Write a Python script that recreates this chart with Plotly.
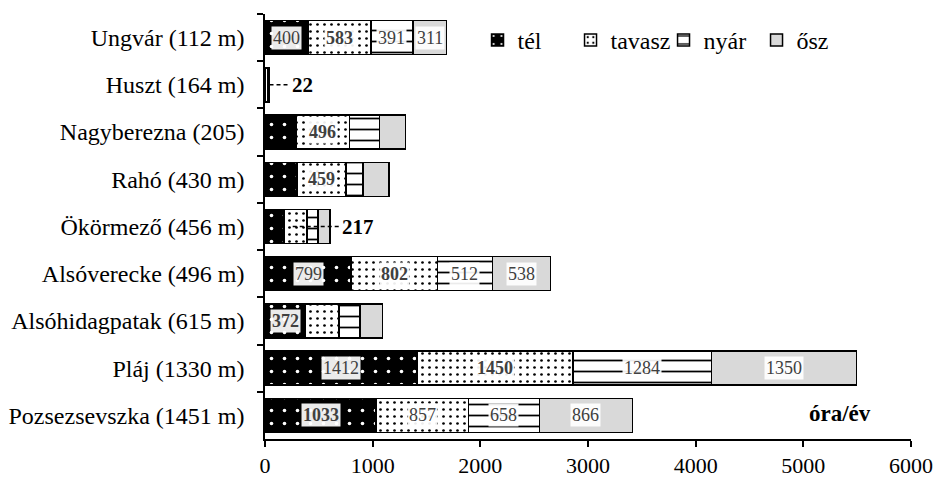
import plotly.graph_objects as go

categories = ["Ungvár (112 m)", "Huszt (164 m)", "Nagyberezna (205)", "Rahó (430 m)",
              "Ökörmező (456 m)", "Alsóverecke (496 m)", "Alsóhidagpatak (615 m)",
              "Pláj (1330 m)", "Pozsezsevszka (1451 m)"]
tel = [400, 6, 290, 295, 175, 799, 372, 1412, 1033]
tavasz = [583, 22, 496, 459, 217, 802, 315, 1450, 857]
nyar = [391, 5, 279, 155, 100, 512, 193, 1284, 658]
osz = [311, 4, 240, 242, 112, 538, 211, 1350, 866]

series_names = ["tél", "tavasz", "nyár", "ősz"]
x_ticks = [0, 1000, 2000, 3000, 4000, 5000, 6000]

# which segment values are printed inside the bars (None = not shown), and bold flags
tel_lbl = [400, None, None, None, None, 799, 372, 1412, 1033]
tel_bold = [False, False, False, False, False, False, True, False, True]
tavasz_lbl = [583, None, 496, 459, None, 802, None, 1450, 857]
tavasz_bold = [True, False, True, True, False, True, False, True, False]
nyar_lbl = [391, None, None, None, None, 512, None, 1284, 658]
osz_lbl = [311, None, None, None, None, 538, None, 1350, 866]
# values shown outside with a dashed leader line (tavasz segment)
callout_idx = [1, 4]

FONT = "Liberation Serif"
series = [tel, tavasz, nyar, osz]
patterns = [
    dict(shape=".", bgcolor="black", fgcolor="white", size=13, solidity=0.06, fillmode="replace"),
    dict(shape=".", bgcolor="white", fgcolor="black", size=7, solidity=0.12, fillmode="replace"),
    dict(shape="-", bgcolor="white", fgcolor="black", size=11, solidity=0.16, fillmode="replace"),
    None,
]
colors = ["black", "white", "white", "#d9d9d9"]

fig = go.Figure()
for name, vals, pat, col in zip(series_names, series, patterns, colors):
    marker = dict(color=col, line=dict(color="black", width=1.5))
    if pat is not None:
        marker["pattern"] = pat
    fig.add_trace(go.Bar(y=categories, x=vals, name=name, orientation="h",
                         marker=marker, width=0.72))

# in-bar labels
label_sets = [(tel_lbl, tel_bold), (tavasz_lbl, tavasz_bold),
              (nyar_lbl, [False] * 9), (osz_lbl, [False] * 9)]
for i, cat in enumerate(categories):
    start = 0
    for s, (lbls, bolds) in enumerate(label_sets):
        v = series[s][i]
        if lbls[i] is not None:
            txt = str(lbls[i])
            if bolds[i]:
                txt = "<b>" + txt + "</b>"
            fig.add_annotation(x=start + v / 2, y=cat, text=txt, showarrow=False,
                               font=dict(family=FONT, size=18, color="#404040"),
                               bgcolor="rgba(255,255,255,0.92)", borderpad=1)
        start += v

# callouts with dashed leaders
for i in callout_idx:
    cat = categories[i]
    total = tel[i] + tavasz[i] + nyar[i] + osz[i]
    if i == 1:
        x0 = total + 5
        x1 = x0 + 190
    else:
        x0 = tel[i] + tavasz[i] * 0.38
        x1 = total + 95
    fig.add_trace(go.Scatter(x=[x0, x1], y=[cat, cat], mode="lines",
                             line=dict(color="black", width=1.5, dash="4px,3px"),
                             showlegend=False, hoverinfo="skip"))
    fig.add_annotation(x=x1, y=cat, text="<b>" + str(tavasz[i]) + "</b>", showarrow=False,
                       xanchor="left", xshift=0,
                       font=dict(family=FONT, size=21, color="black"))

fig.add_annotation(x=0.89, y=0.061, xref="paper", yref="paper", text="<b>óra/év</b>",
                   xanchor="center", yanchor="middle",
                   showarrow=False, font=dict(family=FONT, size=23, color="black"))

fig.update_layout(
    width=936, height=477,
    margin=dict(l=265, r=25, t=14, b=38),
    barmode="stack", bargap=0.28,
    plot_bgcolor="white", paper_bgcolor="white",
    font=dict(family=FONT, size=21, color="black"),
    legend=dict(orientation="h", x=0.329, y=0.938, xanchor="left", yanchor="middle",
                font=dict(family=FONT, size=24), bgcolor="rgba(0,0,0,0)",
                traceorder="normal", itemwidth=30, entrywidth=48, tracegroupgap=0),
    showlegend=True,
)
fig.update_xaxes(range=[0, 6000], tickvals=x_ticks, showline=True, linecolor="black",
                 linewidth=1.5, ticks="outside", ticklen=6, tickwidth=1.5, tickcolor="black",
                 showgrid=False, zeroline=False, automargin=False,
                 tickfont=dict(family=FONT, size=22))
fig.update_yaxes(categoryorder="array", categoryarray=categories, autorange="reversed",
                 showline=True, linecolor="black", linewidth=1.5, ticks="outside",
                 ticklen=6, tickwidth=1.5, tickcolor="black", tickson="boundaries",
                 showgrid=False, ticklabelstandoff=14, automargin=False,
                 tickfont=dict(family=FONT, size=24))

fig.write_html("out.html", config={"displayModeBar": False},
               post_script="document.body.style.margin='0';document.body.style.overflow='hidden';")
